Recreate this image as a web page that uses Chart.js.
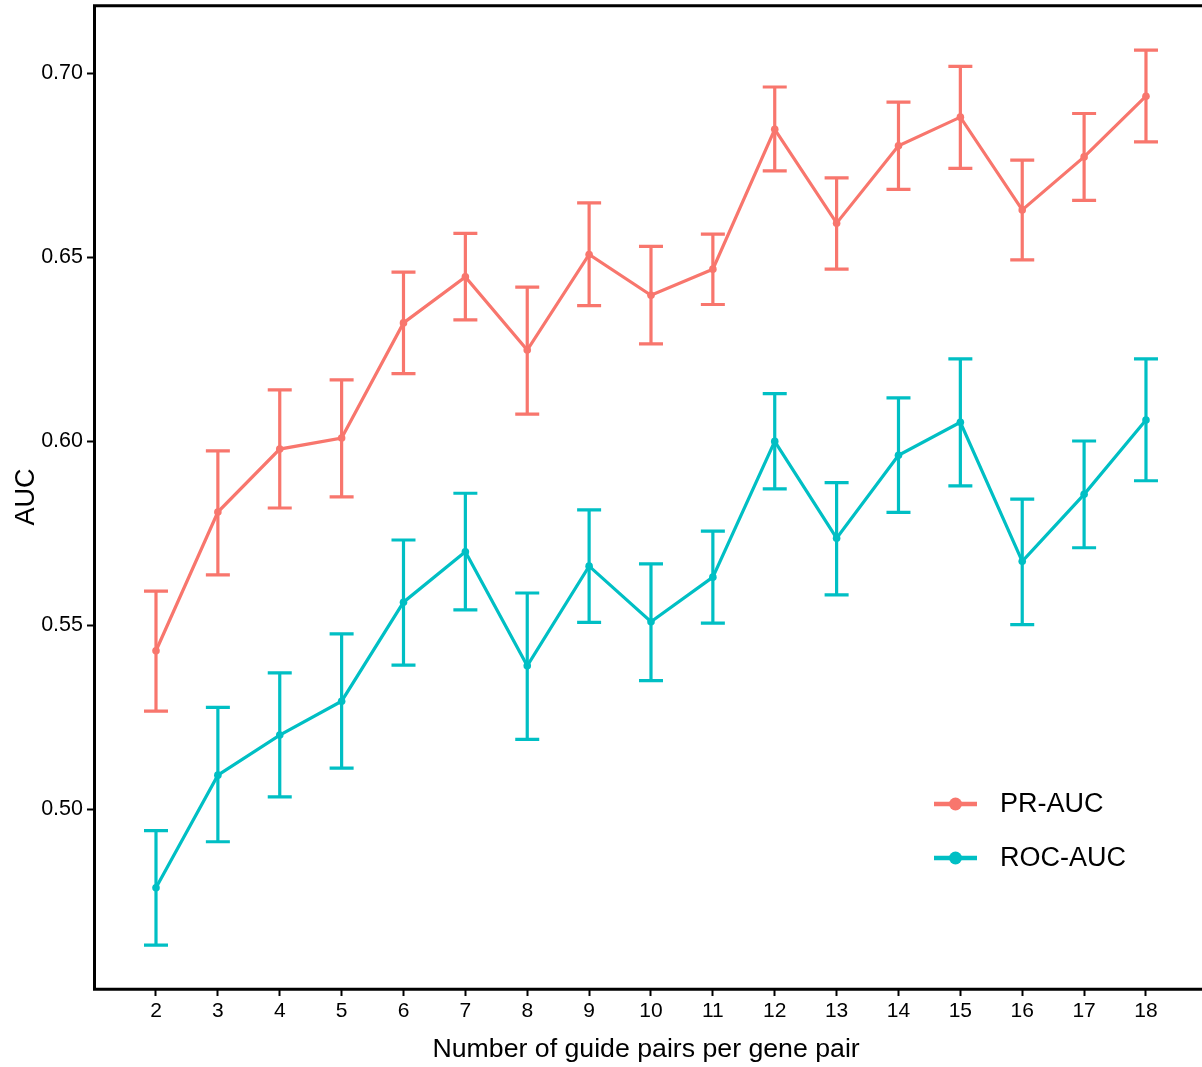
<!DOCTYPE html>
<html>
<head>
<meta charset="utf-8">
<script src="https://cdn.jsdelivr.net/npm/chart.js@4.4.1/dist/chart.umd.min.js"></script>
<style>
  html, body { margin: 0; padding: 0; background: #ffffff; }
  #wrap { width: 1202px; height: 1067px; position: relative; }
</style>
</head>
<body>
<div id="wrap"><canvas id="c" width="1202" height="1067"></canvas></div>
<script>
const guidePairs = [2, 3, 4, 5, 6, 7, 8, 9, 10, 11, 12, 13, 14, 15, 16, 17, 18];
const yTickValues = [0.50, 0.55, 0.60, 0.65, 0.70];

const prMean = [0.5430, 0.5807, 0.5978, 0.6008, 0.6321, 0.6446, 0.6247, 0.6507, 0.6396, 0.6467, 0.6847, 0.6592, 0.6802, 0.6880, 0.6628, 0.6772, 0.6937];
const prLow  = [0.5266, 0.5636, 0.5818, 0.5848, 0.6183, 0.6329, 0.6073, 0.6368, 0.6264, 0.6371, 0.6734, 0.6467, 0.6684, 0.6741, 0.6492, 0.6654, 0.6813];
const prHigh = [0.5592, 0.5973, 0.6139, 0.6166, 0.6459, 0.6564, 0.6418, 0.6647, 0.6529, 0.6562, 0.6962, 0.6715, 0.6921, 0.7018, 0.6763, 0.6890, 0.7062];

const rocMean = [0.4786, 0.5092, 0.5201, 0.5293, 0.5562, 0.5699, 0.5389, 0.5660, 0.5509, 0.5630, 0.5999, 0.5736, 0.5961, 0.6051, 0.5673, 0.5855, 0.6057];
const rocLow  = [0.4630, 0.4911, 0.5033, 0.5111, 0.5391, 0.5541, 0.5189, 0.5507, 0.5349, 0.5505, 0.5870, 0.5582, 0.5806, 0.5878, 0.5501, 0.5710, 0.5892];
const rocHigh = [0.4941, 0.5276, 0.5370, 0.5476, 0.5731, 0.5858, 0.5587, 0.5813, 0.5666, 0.5755, 0.6129, 0.5887, 0.6117, 0.6223, 0.5842, 0.6000, 0.6223];

const seriesNames = ['PR-AUC', 'ROC-AUC'];
const seriesColors = ['#F8766D', '#00BFC4'];

const FONT = "'Liberation Sans', Arial, Helvetica, sans-serif";

function toPoints(xs, ys, lo, hi) {
  return xs.map((x, i) => ({ x: x, y: ys[i], lo: lo[i], hi: hi[i] }));
}

const errorBarPlugin = {
  id: 'errorBars',
  beforeDatasetsDraw(chart) {
    const ctx = chart.ctx;
    const xs = chart.scales.x, ys = chart.scales.y;
    chart.data.datasets.forEach((ds) => {
      ctx.save();
      ctx.strokeStyle = ds.borderColor;
      ctx.lineWidth = 3.2;
      ctx.lineCap = 'butt';
      ds.data.forEach(p => {
        const px = xs.getPixelForValue(p.x);
        const pl = ys.getPixelForValue(p.lo);
        const ph = ys.getPixelForValue(p.hi);
        const hw = 12;
        ctx.beginPath();
        ctx.moveTo(px, pl); ctx.lineTo(px, ph);
        ctx.moveTo(px - hw, pl); ctx.lineTo(px + hw, pl);
        ctx.moveTo(px - hw, ph); ctx.lineTo(px + hw, ph);
        ctx.stroke();
      });
      ctx.restore();
    });
  }
};

const framePlugin = {
  id: 'frameAndLegend',
  afterDraw(chart) {
    const ctx = chart.ctx;
    const a = chart.chartArea;
    ctx.save();
    // axis frame: left, top and bottom lines running to the canvas edge
    ctx.strokeStyle = '#000';
    ctx.lineWidth = 3;
    ctx.lineCap = 'butt';
    ctx.beginPath();
    ctx.moveTo(a.left + 0.5, a.top - 0.5);
    ctx.lineTo(a.left + 0.5, a.bottom + 1.8);
    ctx.moveTo(a.left - 1, a.top + 0.7);
    ctx.lineTo(chart.width, a.top + 0.7);
    ctx.moveTo(a.left - 1, a.bottom + 0.3);
    ctx.lineTo(chart.width, a.bottom + 0.3);
    ctx.stroke();
    // legend
    const items = chart.data.datasets.map(d => ({ label: d.label, color: d.borderColor }));
    const x0 = 934, x1 = 977, tx = 1000;
    const yStart = 804, gap = 54;
    ctx.font = "27px " + FONT;
    ctx.textBaseline = 'middle';
    ctx.textAlign = 'left';
    items.forEach((it, i) => {
      const y = yStart + i * gap;
      ctx.strokeStyle = it.color;
      ctx.lineWidth = 4.5;
      ctx.beginPath();
      ctx.moveTo(x0, y); ctx.lineTo(x1, y);
      ctx.stroke();
      ctx.fillStyle = it.color;
      ctx.beginPath();
      ctx.arc((x0 + x1) / 2, y, 6.5, 0, Math.PI * 2);
      ctx.fill();
      ctx.fillStyle = '#000';
      ctx.fillText(it.label, tx, y + 1);
    });
    ctx.restore();
  }
};

const datasets = [
  { label: seriesNames[0], data: toPoints(guidePairs, prMean, prLow, prHigh) },
  { label: seriesNames[1], data: toPoints(guidePairs, rocMean, rocLow, rocHigh) }
].map((d, i) => Object.assign(d, {
  borderColor: seriesColors[i],
  backgroundColor: seriesColors[i],
  borderWidth: 3.2,
  pointRadius: 3.8,
  pointHoverRadius: 3.8,
  pointBorderWidth: 0,
  tension: 0,
  fill: false
}));

new Chart(document.getElementById('c'), {
  type: 'line',
  data: { datasets: datasets },
  plugins: [errorBarPlugin, framePlugin],
  options: {
    responsive: false,
    animation: false,
    layout: { padding: { top: 5, right: 0, left: 0, bottom: 0 } },
    plugins: { legend: { display: false }, tooltip: { enabled: false } },
    scales: {
      x: {
        type: 'linear',
        min: 0.998,
        max: 18.844,
        afterBuildTicks(scale) { scale.ticks = guidePairs.map(v => ({ value: v })); },
        afterFit(scale) { scale.height = 78; scale.paddingLeft = 0; scale.paddingRight = 0; },
        ticks: {
          color: '#000',
          font: { family: FONT, size: 21 },
          padding: 3,
          maxRotation: 0,
          autoSkip: false,
          callback: v => String(v)
        },
        grid: { drawOnChartArea: false, drawTicks: true, tickLength: 7, tickWidth: 2, tickColor: '#000' },
        border: { display: false },
        title: {
          display: true,
          text: 'Number of guide pairs per gene pair',
          color: '#000',
          font: { family: FONT, size: 26.7 },
          padding: { top: 0, bottom: 1 }
        }
      },
      y: {
        type: 'linear',
        min: 0.45109,
        max: 0.71848,
        afterBuildTicks(scale) { scale.ticks = yTickValues.map(v => ({ value: v })); },
        afterFit(scale) { scale.width = 94; scale.paddingTop = 0; scale.paddingBottom = 0; },
        ticks: {
          color: '#000',
          font: { family: FONT, size: 21.5 },
          padding: 4,
          callback: v => Number(v).toFixed(2)
        },
        grid: { drawOnChartArea: false, drawTicks: true, tickLength: 7, tickWidth: 2, tickColor: '#000' },
        border: { display: false },
        title: {
          display: true,
          text: 'AUC',
          color: '#000',
          font: { family: FONT, size: 27 },
          padding: { top: 10, bottom: 0 }
        }
      }
    }
  }
});
</script>
</body>
</html>
